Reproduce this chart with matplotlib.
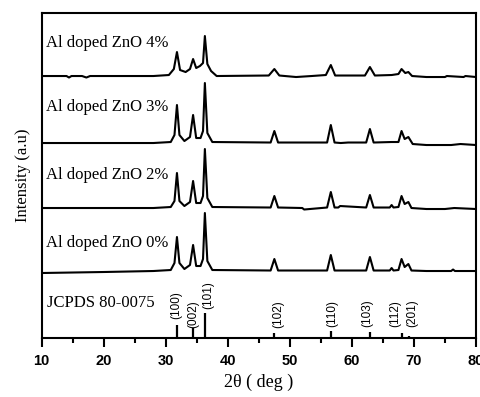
import matplotlib
matplotlib.use("Agg")
import matplotlib.pyplot as plt
from matplotlib.ticker import MultipleLocator

# XRD patterns: x in 2theta (deg), y = intensity above each baseline (a.u.)
x_0 = [10, 20, 28, 30.8, 31.4, 31.8, 32.2, 33.0, 33.9, 34.4, 34.9, 35.6, 36.0, 36.3, 36.7, 37.5,
       46.9, 47.5, 48.1, 56.0, 56.6, 57.2, 62.3, 62.9, 63.5, 66.1, 66.4, 66.7, 67.5, 68.0, 68.5,
       69.1, 69.6, 72, 76, 76.3, 76.6, 80]
y_0 = [-2, -1, 0, 1, 8, 34, 8, 2, 6, 26, 5, 5, 12, 58, 10, 1,
       0.5, 12, 0.5, 0.5, 16, 0.5, 0.5, 14, 0.5, 0.5, 3, 0.5, 1, 12, 4,
       7, 0.5, 0, 0, 1.5, 0, 0]

x_2 = [10, 20, 28, 30.8, 31.4, 31.8, 32.2, 33.0, 33.9, 34.4, 34.9, 35.6, 36.0, 36.3, 36.7, 37.5,
       46.9, 47.5, 48.1, 52, 52.3, 56.0, 56.6, 57.2, 57.8, 58.1, 62.3, 62.9, 63.5, 66.1, 66.4,
       66.7, 67.5, 68.0, 68.5, 69.1, 69.6, 72, 75, 76.5, 80]
y_2 = [0, 0, 0, 1, 7, 35, 7, 2, 6, 27, 5, 5, 12, 59, 10, 1,
       0.5, 12, 0.5, 0, -1.5, 0.5, 16, 0.5, 0.5, 2, 0.5, 13, 0.5, 0.5, 3,
       0.5, 1, 12, 4, 6, 0, -1, -1, 0, -1]

x_3 = [10, 20, 28, 30.8, 31.4, 31.8, 32.2, 33.0, 33.9, 34.4, 34.9, 35.6, 36.0, 36.3, 36.7, 37.5,
       46.9, 47.5, 48.1, 56.0, 56.6, 57.2, 58.2, 59.4, 62.3, 62.9, 63.5, 66.4, 67.5, 68.0, 68.5,
       69.1, 69.8, 72, 76, 77.5, 80]
y_3 = [0, 0, 0, 1, 8, 38, 8, 2, 6, 28, 5, 5, 12, 60, 10, 1,
       0.5, 12, 0.5, 0.5, 18, 0.5, 0, 0.5, 0.5, 14, 0.5, 1, 1, 12, 4,
       6, -1, -2, -2, -1, -2]

x_4 = [10, 14, 14.4, 14.8, 16.5, 17.2, 17.8, 28, 30.5, 31.3, 31.8, 32.3, 33.2, 33.9, 34.4, 34.9,
       35.5, 36.0, 36.3, 36.7, 37.3, 38.2, 46.6, 47.5, 48.3, 51, 53.5, 55.8, 56.6, 57.3, 62.1,
       62.9, 63.7, 66.4, 67.5, 68.0, 68.6, 69.1, 69.7, 72, 75, 75.3, 78, 78.3, 80]
y_4 = [0, 0, -1.5, 0, 0, -1.5, 0, 0, 1, 7, 24, 6, 4, 7, 17, 8,
       10, 13, 40, 12, 5, 0, 0.5, 7, 0.5, -1, 0, 1, 11, 0.5, 0.5,
       9, 0.5, 1, 2, 7, 3, 4, 0, -1, -1, 0, -1, 0, -1]

patterns = [(x_0, y_0), (x_2, y_2), (x_3, y_3), (x_4, y_4)]
baselines = [67, 130, 195, 262]
labels = ["Al doped ZnO 0%", "Al doped ZnO 2%", "Al doped ZnO 3%", "Al doped ZnO 4%"]
label_y = [95, 163, 231, 295]

# JCPDS 80-0075 reference lines
ref_pos = [31.8, 34.4, 36.3, 47.5, 56.6, 62.9, 68.0, 69.2]
ref_int = [13, 10, 25, 5, 7, 6, 5, 2]
hkl = ["(100)", "(002)", "(101)", "(102)", "(110)", "(103)", "(112)", "(201)"]
hkl_x = [31.7, 34.4, 36.8, 48.1, 56.8, 62.5, 67.0, 69.8]
hkl_y = [19, 10, 29, 10, 11, 11, 11, 11]

fig = plt.figure(figsize=(4.81, 3.97), dpi=100)
ax = fig.add_axes([0.0867, 0.1486, 0.9029, 0.8186])

for (xs, ys), b in zip(patterns, baselines):
    ax.plot(xs, [v + b for v in ys], color="black", lw=1.5)

ax.vlines(ref_pos, 0, ref_int, color="black", lw=1.6)

for t, yy in zip(labels, label_y):
    ax.text(10.7, yy, t, family="Liberation Serif", fontsize=12, va="center", ha="left")
ax.text(10.8, 35, "JCPDS 80-0075", family="Liberation Serif", fontsize=12, va="center", ha="left")

for t, xx, yy in zip(hkl, hkl_x, hkl_y):
    ax.text(xx, yy, t, family="Liberation Sans", fontsize=8.5, rotation=90,
            ha="center", va="bottom")

ax.set_xlim(10, 80)
ax.set_ylim(0, 325)
ax.set_yticks([])
ax.xaxis.set_major_locator(MultipleLocator(10))
ax.xaxis.set_minor_locator(MultipleLocator(5))
ax.tick_params(axis="x", which="major", direction="out", length=6.5, width=1.5, pad=5)
ax.tick_params(axis="x", which="minor", direction="out", length=3.5, width=1.5)
for lab in ax.get_xticklabels():
    lab.set_family("Liberation Sans")
    lab.set_fontsize(10.5)
    lab.set_fontweight("bold")
for s in ax.spines.values():
    s.set_linewidth(1.5)

ax.set_xlabel("2θ ( deg )", family="Liberation Serif", fontsize=13, labelpad=4)
ax.set_ylabel("Intensity (a.u)", family="Liberation Serif", fontsize=12, labelpad=8)

fig.savefig("out.png", dpi=100)
